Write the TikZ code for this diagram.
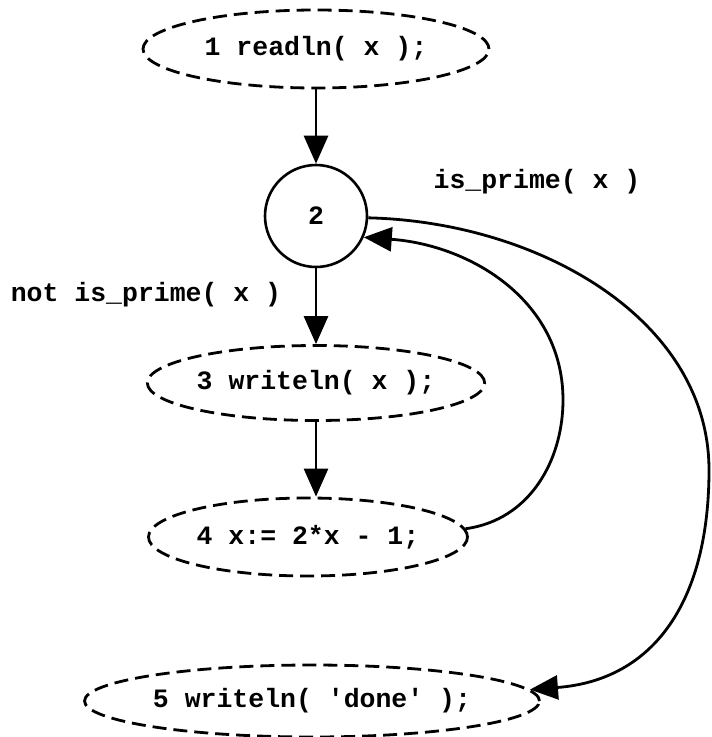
\documentclass[tikz,border=0pt]{standalone}
\usepackage{fontspec}
\setmonofont{Liberation Mono}
\usetikzlibrary{arrows.meta,shapes.geometric}
\begin{document}
\begin{tikzpicture}[x=1pt,y=-1pt,
  every node/.style={font=\ttfamily\bfseries\fontsize{26.5}{30}\selectfont},
  stmt/.style={ellipse, draw, dash pattern=on 14pt off 7pt, line width=2.8pt, inner sep=0pt},
  junction/.style={circle, draw, line width=2.6pt, minimum size=102pt, inner sep=0pt},
  flow/.style={line width=2.8pt, -{Triangle[length=28pt,width=24pt]}},
  guard/.style={inner sep=0pt}]
\path[use as bounding box] (0,0) rectangle (712,737);
% statements of the control flow graph
\node[stmt, minimum width=346pt, minimum height=78pt] (n1) at (316,49) {1 readln( x );};
\node[junction] (n2) at (316,216) {2};
\node[stmt, minimum width=317pt, minimum height=75pt] (n3) at (316,383) {3 writeln( x );};
\node[stmt, minimum width=319pt, minimum height=78pt] (n4) at (308,537) {4 x:= 2*x - 1;};
\node[stmt, minimum width=455pt, minimum height=72pt] (n5) at (312,701) {5 writeln( 'done' );};
% branch conditions
\node[guard] (lp) at (537,182) {is\_prime( x )};
\node[guard] (ln) at (146,295) {not is\_prime( x )};
% straight edges
\draw[flow] (n1) -- (n2);
\draw[flow] (n2) -- (n3);
\draw[flow] (n3.south -| n2) -- (n4.north -| n2);
% loop back edge and exit edge
\coordinate (r1) at (563,400);
\coordinate (r2) at (709,470);
\draw[flow] (n4.3) .. controls (530,520) and (563,460) .. (r1)
  .. controls (563,300) and (470,245) .. (n2.-24);
\draw[flow] (n2.-2) .. controls (540,222) and (709,320) .. (r2)
  .. controls (709,600) and (655,680) .. (n5.3);
\end{tikzpicture}
\end{document}
